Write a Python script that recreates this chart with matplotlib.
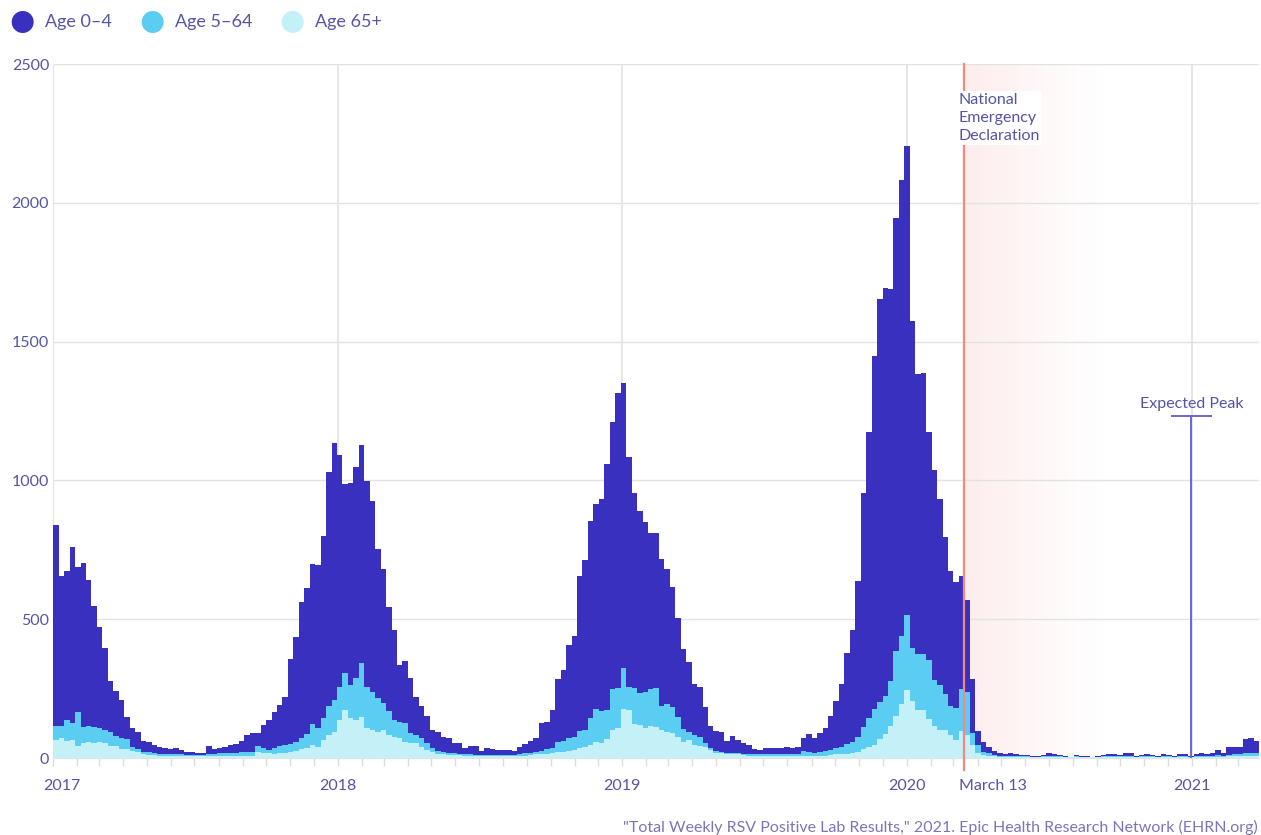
import numpy as np
import pandas as pd
import matplotlib
matplotlib.use("Agg")
import matplotlib.pyplot as plt
from matplotlib.transforms import IdentityTransform
from matplotlib.patches import Circle

plt.rcParams['font.family'] = ['Lato', 'DejaVu Sans']

# weekly positive RSV lab results, weeks starting 2017-01-01
age0_4 = [724, 541, 538, 636, 522, 588, 525, 435, 364, 294, 186, 163, 138, 80, 68, 61, 39, 38, 30, 25,
          22, 17, 21, 17, 10, 11, 8, 7, 29, 17, 18, 21, 28, 31, 40, 61, 67, 46, 84, 108,
          131, 147, 174, 305, 378, 492, 525, 576, 588, 657, 844, 927, 834, 682, 729, 762, 784, 741, 688, 537,
          484, 372, 324, 204, 225, 198, 138, 116, 98, 66, 69, 51, 54, 38, 39, 20, 28, 31, 15, 24,
          21, 18, 18, 18, 14, 25, 33, 45, 48, 102, 100, 138, 224, 256, 336, 364, 558, 612, 711, 740,
          761, 886, 965, 1065, 1029, 826, 702, 656, 612, 562, 556, 529, 488, 435, 354, 288, 252, 184, 181, 130,
          78, 73, 69, 43, 62, 48, 41, 33, 17, 15, 21, 21, 23, 21, 27, 21, 27, 45, 63, 52,
          66, 81, 122, 170, 226, 327, 402, 564, 843, 1030, 1272, 1452, 1470, 1410, 1562, 1640, 1689, 1179, 1011, 1014,
          823, 755, 669, 566, 488, 456, 408, 331, 194, 52, 36, 24, 14, 9, 7, 10, 7, 5, 5, 2,
          2, 5, 10, 7, 5, 2, 1, 5, 2, 2, 1, 2, 5, 7, 6, 5, 10, 10, 2, 5,
          7, 5, 2, 7, 5, 2, 7, 7, 2, 7, 9, 7, 9, 19, 10, 26, 25, 27, 48, 52,
          42]
age5_64 = [50, 44, 75, 60, 122, 60, 57, 58, 52, 48, 49, 36, 37, 33, 15, 9, 7, 8, 7, 7,
           6, 6, 6, 5, 5, 4, 4, 5, 7, 7, 9, 9, 11, 11, 13, 13, 13, 20, 18, 12,
           21, 26, 28, 27, 33, 40, 51, 75, 66, 78, 104, 114, 120, 132, 120, 150, 194, 150, 138, 120,
           96, 88, 60, 60, 66, 34, 30, 30, 24, 12, 13, 10, 5, 6, 6, 6, 6, 4, 4, 4,
           4, 4, 4, 4, 4, 5, 8, 7, 9, 11, 17, 18, 36, 38, 46, 48, 63, 60, 96, 116,
           118, 106, 146, 144, 148, 84, 129, 116, 132, 132, 143, 86, 98, 93, 72, 44, 30, 36, 31, 17,
           8, 8, 6, 4, 3, 4, 4, 5, 6, 7, 7, 7, 7, 7, 7, 7, 7, 18, 15, 11,
           15, 17, 18, 21, 27, 36, 40, 51, 82, 102, 128, 132, 137, 162, 235, 247, 269, 191, 202, 202,
           213, 166, 162, 130, 103, 113, 150, 154, 44, 29, 11, 9, 5, 3, 3, 3, 3, 2, 2, 2,
           2, 3, 3, 3, 2, 2, 1, 3, 2, 2, 1, 2, 2, 3, 3, 2, 3, 3, 2, 2,
           3, 2, 2, 3, 2, 2, 3, 3, 2, 3, 4, 3, 3, 5, 4, 6, 7, 7, 11, 11,
           11]
age65 = [65, 71, 62, 65, 43, 53, 59, 55, 57, 53, 43, 43, 34, 34, 26, 22, 16, 12, 10, 9,
         9, 8, 8, 8, 7, 7, 7, 7, 7, 7, 8, 8, 8, 8, 9, 9, 9, 23, 17, 17,
         14, 17, 19, 23, 26, 31, 35, 47, 41, 65, 83, 95, 137, 173, 143, 137, 149, 107, 101, 95,
         101, 83, 77, 71, 59, 55, 53, 41, 29, 23, 13, 13, 12, 11, 10, 9, 9, 8, 7, 7,
         7, 7, 7, 7, 7, 8, 9, 10, 14, 14, 14, 17, 23, 23, 25, 29, 35, 41, 47, 59,
         53, 67, 101, 107, 175, 173, 122, 119, 107, 115, 110, 101, 95, 89, 77, 59, 65, 47, 43, 38,
         29, 17, 17, 15, 14, 13, 10, 9, 8, 7, 7, 7, 7, 7, 7, 7, 7, 8, 8, 8,
         8, 9, 11, 14, 14, 14, 19, 23, 31, 41, 47, 69, 87, 116, 150, 194, 246, 206, 172, 172,
         140, 116, 101, 101, 84, 66, 99, 84, 47, 18, 12, 8, 6, 5, 4, 4, 4, 4, 4, 3,
         3, 3, 4, 4, 4, 3, 3, 3, 3, 3, 3, 3, 4, 4, 4, 4, 4, 4, 3, 4,
         4, 4, 3, 4, 4, 3, 4, 4, 3, 4, 4, 4, 5, 5, 5, 6, 6, 7, 8, 8,
         8]

series_names = ["Age 0\u20134", "Age 5\u201364", "Age 65+"]
colors = ["#3930bf", "#5ccdf2", "#c4f1f8"]
year_labels = ["2017", "2018", "2019", "2020", "2021"]
emergency_date = "2020-03-13"

start = pd.Timestamp("2017-01-01")
def to_week(d):
    return (pd.Timestamp(d) - start).days / 7.0

text_col = "#5753a6"
grid_col = "#e2e2e2"

fig = plt.figure(figsize=(12.61, 8.35), dpi=100)
ax = fig.add_axes([53.3 / 1261, 77 / 835, 1205.7 / 1261, 694 / 835])

n = len(age0_4)
edges = np.arange(n + 1)
low = np.array(age65, dtype=float)
mid = low + np.array(age5_64)
top = mid + np.array(age0_4)
ax.stairs(low, edges, baseline=0, fill=True, color=colors[2], zorder=3)
ax.stairs(mid, edges, baseline=low, fill=True, color=colors[1], zorder=3)
ax.stairs(top, edges, baseline=mid, fill=True, color=colors[0], zorder=3)

# grid
ax.set_yticks([0, 500, 1000, 1500, 2000, 2500])
ax.set_yticklabels(["0", "500", "1000", "1500", "2000", "2500"], fontsize=11.5, color=text_col)
ax.tick_params(axis="y", length=0, pad=3)
ax.yaxis.grid(True, color=grid_col, lw=1, zorder=0)
for sp in ["top", "right"]:
    ax.spines[sp].set_visible(False)
ax.spines["left"].set_color(grid_col)
ax.spines["bottom"].set_color(grid_col)

months = pd.date_range("2017-01-01", "2021-04-01", freq="MS")
ax.set_xticks([to_week(m) for m in months])
ax.set_xticklabels([])
ax.tick_params(axis="x", length=6, width=1, color="#dcdcdc")

year_pos = [to_week(y + "-01-01") for y in year_labels]
for xp in year_pos[1:]:
    ax.axvline(xp, color=grid_col, lw=1.2, zorder=0)

# shaded period after emergency declaration
em = to_week(emergency_date) + 0.2
grad = np.zeros((1, 200, 4))
grad[..., 0] = 0.95
grad[..., 1] = 0.45
grad[..., 2] = 0.45
grad[..., 3] = np.linspace(0.13, 0.0, 200) ** 1.2 / 0.13 ** 0.2
ax.imshow(grad, extent=[em, em + 27, 0, 2500], aspect="auto", zorder=1, interpolation="bilinear")
ax.set_xlim(0, n)
ax.set_ylim(0, 2500)
ax.axvline(em, ymin=-0.018, ymax=1, color="#f4877f", lw=1.6, zorder=4, clip_on=False)
ax.text(em - 1.0, 2394, "National\nEmergency\nDeclaration", fontsize=11.5, color=text_col,
        ha="left", va="top", linespacing=1.33, zorder=5,
        bbox=dict(facecolor="white", edgecolor="none", pad=1.5))

# expected peak marker
peak_x = to_week("2021-01-01") - 0.1
ax.plot([peak_x, peak_x], [0, 1232], color="#6b64d6", lw=1.4, zorder=4)
ax.plot([peak_x - 3.6, peak_x + 3.6], [1232, 1232], color="#6b64d6", lw=1.4, zorder=4)
ax.text(peak_x, 1250, "Expected Peak", fontsize=11.5, color=text_col, ha="center", va="bottom", zorder=5)

# x labels
label_pos = [1.6] + year_pos[1:]
for xp, lab in zip(label_pos, year_labels):
    ax.annotate(lab, xy=(xp, 0), xycoords=("data", "axes fraction"), xytext=(0, -20),
                textcoords="offset points", ha="center", va="center", fontsize=11.5, color=text_col)
ax.annotate("March 13", xy=(em - 0.9, 0), xycoords=("data", "axes fraction"), xytext=(0, -20),
            textcoords="offset points", ha="left", va="center", fontsize=11.5, color=text_col)

# legend
legend_x = [22.7, 152.7, 292.7]
for lx, c, name in zip(legend_x, colors, series_names):
    fig.add_artist(Circle((lx, 835 - 22), 11, transform=IdentityTransform(), color=c, lw=0))
    fig.text((lx + 22) / 1261, (835 - 22) / 835, name, fontsize=13, color=text_col, va="center", ha="left")

fig.text(1258 / 1261, 8 / 835,
         '"Total Weekly RSV Positive Lab Results," 2021. Epic Health Research Network (EHRN.org)',
         fontsize=11.5, color="#7a76b9", ha="right", va="center")

fig.savefig("out.png", dpi=100)
